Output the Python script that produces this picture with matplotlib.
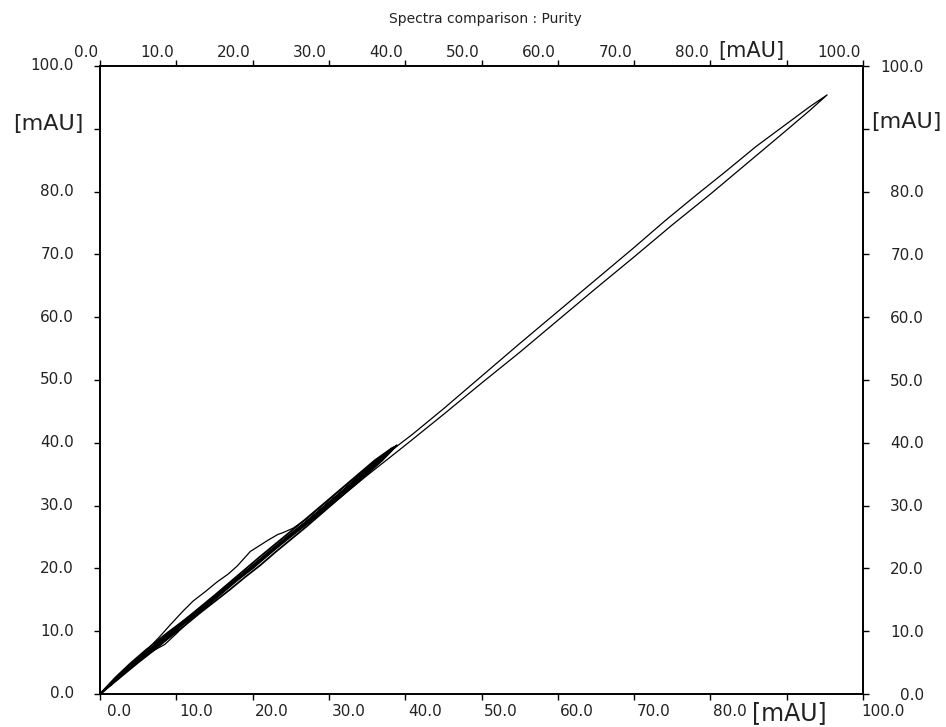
import matplotlib
matplotlib.use("Agg")
import matplotlib.pyplot as plt
from matplotlib.transforms import offset_copy

# ---- data ----
x_ticks = [0, 10, 20, 30, 40, 50, 60, 70, 80, 90, 100]
x_tick_labels = ["0.0", "10.0", "20.0", "30.0", "40.0", "50.0", "60.0", "70.0", "80.0", "", "100.0"]
y_ticks = [0, 10, 20, 30, 40, 50, 60, 70, 80, 90, 100]
y_tick_labels = ["0.0", "10.0", "20.0", "30.0", "40.0", "50.0", "60.0", "70.0", "80.0", "", "100.0"]
unit_label = "[mAU]"
title = "Spectra comparison : Purity"

# curve reaching the maximum (outbound + return)
c1_x = [0, 3, 6, 10, 15, 20, 25, 30, 35, 40, 45, 50, 55, 60, 65, 70, 75, 80, 85, 90, 93, 95.3,
        93, 90, 86, 82, 78, 74, 70, 65, 60, 55, 50, 45, 41, 38, 34, 30, 25, 20, 15, 10, 6, 3, 0]
c1_y = [0, 3.3, 6.5, 10.6, 15.5, 20.2, 25.0, 29.8, 34.8, 39.6, 44.5, 49.5, 54.4, 59.5, 64.6, 69.6, 74.7, 79.6, 84.7, 89.8, 92.9, 95.4,
        93.5, 90.8, 87.2, 83.2, 79.3, 75.3, 71.1, 66.0, 60.9, 55.8, 50.6, 45.4, 41.4, 38.6, 34.6, 30.4, 25.4, 20.5, 15.6, 10.5, 6.3, 3.1, 0]

# bundle of curves up to ~39
c2_x = [0, 2, 4, 6, 8, 10, 12, 14, 16, 18, 20, 22, 24, 26, 28, 30, 32, 34, 36, 38, 38.7,
        37, 35, 33, 31, 29, 27, 25, 23, 21, 19, 17, 15, 13, 11, 9, 7, 5, 3, 1, 0]
c2_y = [0, 2.1, 4.3, 6.2, 8.3, 10.2, 12.4, 14.2, 16.3, 18.2, 20.1, 22.3, 24.2, 26.4, 28.3, 30.5, 32.4, 34.6, 36.5, 38.6, 39.4,
        37.2, 35.0, 32.9, 30.8, 28.7, 26.6, 24.6, 22.6, 20.5, 18.6, 16.6, 14.7, 12.8, 10.8, 8.9, 6.9, 5.0, 3.0, 1.0, 0]

c3_x = [0, 3, 6, 9, 12, 15, 18, 21, 24, 27, 30, 33, 36, 38.2,
        37, 34, 31, 28, 25, 22, 19, 16, 13, 10, 7, 4, 0]
c3_y = [0, 3.4, 6.6, 9.7, 12.7, 15.7, 18.8, 21.9, 24.9, 27.9, 31.0, 34.1, 37.2, 39.1,
        37.6, 34.3, 31.4, 28.4, 25.5, 22.5, 19.4, 16.3, 13.3, 10.3, 7.3, 4.4, 0]

c4_x = [0, 2.5, 5, 7.5, 10, 12.5, 15, 17.5, 20, 22.5, 25, 27.5, 30, 32.5, 35, 37.5, 38.9,
        36.5, 34, 31.5, 29, 26.5, 24, 21.5, 19, 16.5, 14, 11.5, 9, 6.5, 4, 1.5, 0]
c4_y = [0, 2.9, 5.6, 8.1, 10.4, 12.9, 15.2, 17.7, 20.0, 22.6, 25.2, 27.5, 30.1, 32.8, 35.3, 37.9, 39.6,
        37.0, 34.1, 31.7, 29.0, 26.7, 24.3, 21.8, 19.3, 16.8, 14.4, 11.9, 9.4, 6.8, 4.3, 1.7, 0]

c6_x = [0, 2, 4, 6, 9, 12, 15, 18, 21, 24, 27, 30, 33, 36, 38.5,
        37.5, 35, 32, 29, 26, 23, 20, 17, 14, 11, 8, 5, 2, 0]
c6_y = [0, 2.6, 4.9, 7.0, 9.9, 12.6, 15.4, 18.4, 21.2, 24.4, 27.3, 30.4, 33.5, 36.6, 39.3,
        38.2, 35.9, 32.6, 29.5, 26.3, 23.3, 20.2, 17.1, 14.0, 11.2, 8.4, 5.4, 2.3, 0]

# outer loop lying above the diagonal at low values
c5_x = [0, 2, 4, 5.5, 6.3, 7.8, 9.2, 10.8, 12.2, 13.8, 15.3, 16.8, 18.0, 19.7, 21.0, 21.9, 23.3, 24.0, 25.3,
        27, 30, 33, 36, 38.3,
        36, 33, 30, 27, 24, 21, 18, 15, 12, 10, 8.5, 7.0, 6.0, 5.0, 3.0, 0]
c5_y = [0, 2.4, 4.6, 6.3, 7.2, 9.1, 11.0, 13.1, 14.8, 16.3, 17.8, 19.1, 20.4, 22.7, 23.7, 24.4, 25.4, 25.7, 26.4,
        27.8, 30.9, 34.0, 37.0, 39.2,
        36.6, 33.5, 30.4, 27.3, 24.4, 21.4, 18.3, 15.2, 12.0, 9.6, 7.9, 6.9, 6.3, 5.6, 3.4, 0]

curves = [(c1_x, c1_y, 0.9), (c2_x, c2_y, 1.3), (c3_x, c3_y, 1.3), (c4_x, c4_y, 1.3),
          (c6_x, c6_y, 1.3), (c5_x, c5_y, 0.9)]

# ---- figure ----
W, H = 946, 727
fig = plt.figure(figsize=(W / 100, H / 100), dpi=100)
ax = fig.add_axes([100 / W, (H - 694) / H, 763 / W, 628 / H])

for cx, cy, lw in curves:
    ax.plot(cx, cy, color="black", lw=lw, solid_joinstyle="round")

ax.set_xlim(0, 100)
ax.set_ylim(0, 100)
ax.set_xticks(x_ticks)
ax.set_yticks(y_ticks)
ax.tick_params(axis="both", which="both", direction="out", length=4.3, width=1.0,
               top=True, right=True, labelbottom=False, labelleft=False,
               labeltop=False, labelright=False, color="black")
for s in ax.spines.values():
    s.set_linewidth(1.4)
    s.set_color("black")

fs = 11
font = "DejaVu Sans"
col = "#222222"

xt = ax.get_xaxis_transform()
yt = ax.get_yaxis_transform()

for v, lab in zip(x_ticks, x_tick_labels):
    if lab:
        ax.text(v, 0, lab, transform=offset_copy(xt, fig, x=19.5, y=-17, units="dots"),
                ha="center", va="center", fontsize=fs, family=font, color=col, clip_on=False)
        ax.text(v, 1, lab, transform=offset_copy(xt, fig, x=-2, y=13.5, units="dots"),
                ha="right", va="center", fontsize=fs, family=font, color=col, clip_on=False)
for v, lab in zip(y_ticks, y_tick_labels):
    if lab:
        ax.text(0, v, lab, transform=offset_copy(yt, fig, x=-26, y=0, units="dots"),
                ha="right", va="center", fontsize=fs, family=font, color=col, clip_on=False)
        ax.text(1, v, lab, transform=offset_copy(yt, fig, x=61, y=-1, units="dots"),
                ha="right", va="center", fontsize=fs, family=font, color=col, clip_on=False)

# unit labels at the 90 positions
ax.text(0, 90, unit_label, transform=offset_copy(yt, fig, x=-52, y=5, units="dots"),
        ha="center", va="center", fontsize=16, family=font, color=col, clip_on=False)
ax.text(1, 90, unit_label, transform=offset_copy(yt, fig, x=8, y=7, units="dots"),
        ha="left", va="center", fontsize=16, family=font, color=col, clip_on=False)
ax.text(90, 1, unit_label, transform=offset_copy(xt, fig, x=-2, y=9, units="dots"),
        ha="right", va="baseline", fontsize=15, family=font, color=col, clip_on=False)
ax.text(90, 0, unit_label, transform=offset_copy(xt, fig, x=3, y=-7, units="dots"),
        ha="center", va="top", fontsize=17, family=font, color=col, clip_on=False)

fig.text(485 / W, 1 - 19 / H, title, ha="center", va="center", fontsize=10,
         family=font, color=col)

fig.savefig("out.png", dpi=100)
